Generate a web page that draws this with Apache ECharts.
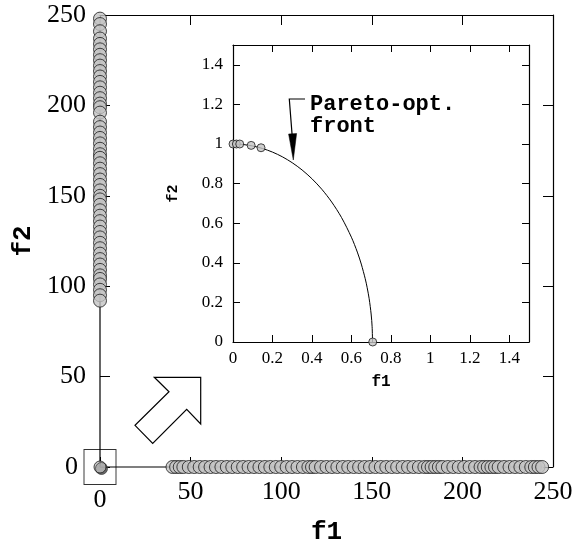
<!DOCTYPE html>
<html>
<head>
<meta charset="utf-8">
<script src="https://cdn.jsdelivr.net/npm/echarts@6/dist/echarts.min.js"></script>
<style>html,body{margin:0;padding:0;background:#fff}#c{width:579px;height:540px}</style>
</head>
<body>
<div id="c"></div>
<script>
// ---- Main plot data ----
const columnF2 = [248,245,241,237,234,231,228,225,222,219,216,213,210,207,204,201,199,196,191,188,185,182,179,176,173,171,168,165,162,159,156,153,150,148,145,142,139,136,133,130,127,124,121,118,115,112,109,106,104,101,98,95,92];
const rowF1 = [40,42,44,46,49,52,55,58,61,64,67,70,73,76,79,82,85,88,91,94,97,100,103,106,109,112,115,117,119,122,125,128,131,134,137,140,143,146,149,152,155,158,161,164,167,170,173,176,179,181,183,185,187,189,192,195,198,201,204,207,210,212,214,216,218,220,223,226,229,232,235,238,240,242,244];
const origin = [0, 0];
const mainTicks = [0, 50, 100, 150, 200, 250];

// ---- Inset data ----
const insetPtsF1 = [0, 0.017, 0.034, 0.092, 0.142, 0.708];
const insetPtsF2 = [1, 1, 1, 0.993, 0.981, 0];
const frontF1 = [0, 0.05, 0.1, 0.15, 0.2, 0.25, 0.3, 0.35, 0.4, 0.45, 0.5, 0.55, 0.6, 0.63, 0.65, 0.67, 0.68, 0.69, 0.70, 0.705, 0.7071];
const frontF2 = [1, 0.9975, 0.9899, 0.9772, 0.9592, 0.9354, 0.9055, 0.8689, 0.8246, 0.7714, 0.7071, 0.6285, 0.5292, 0.4541, 0.3937, 0.3197, 0.2742, 0.2186, 0.1414, 0.0771, 0];
const insetTicks = [0, 0.2, 0.4, 0.6, 0.8, 1, 1.2, 1.4];
const annotationText = 'Pareto-opt.\nfront';

const serif = 'Liberation Serif, Times New Roman, serif';
const mono = 'Liberation Mono, Courier New, monospace';

const colPts = columnF2.map(v => [0, v]);
const rowPts = rowF1.map(v => [v, 0]);
const pathPts = colPts.concat([origin]).concat(rowPts);

const ptStyle = { color: '#c3c3c3', borderColor: '#1a1a1a', borderWidth: 1 };
const lineCol = '#000';

function mainAxisBase(extra) {
  return Object.assign({
    type: 'value', min: 0, max: 250, interval: 50,
    splitLine: { show: false },
    axisTick: { show: true, inside: true, length: 10, lineStyle: { color: lineCol, width: 1 } },
  }, extra);
}
function insetAxisBase(extra) {
  return Object.assign({
    type: 'value', min: 0, max: 1.5, interval: 0.2,
    splitLine: { show: false },
    axisTick: { show: true, inside: true, length: 7, lineStyle: { color: lineCol, width: 1 } },
    axisLine: { show: true, onZero: false, lineStyle: { color: lineCol, width: 1.2 } },
  }, extra);
}

const chart = echarts.init(document.getElementById('c'), null, { renderer: 'canvas' });
chart.setOption({
  animation: false,
  backgroundColor: '#fff',
  grid: [
    { left: 100, top: 15, width: 453, height: 452, show: false, containLabel: false, outerBoundsMode: 'none' },
    { left: 233, top: 45, width: 296, height: 297, show: true, backgroundColor: '#fff', borderWidth: 0, z: 5, containLabel: false, outerBoundsMode: 'none' }
  ],
  xAxis: [
    mainAxisBase({
      gridIndex: 0, position: 'bottom',
      axisLine: { show: false },
      name: 'f1', nameLocation: 'middle', nameGap: 52,
      nameTextStyle: { fontFamily: mono, fontWeight: 'bold', fontSize: 26, color: '#000' },
      axisLabel: {
        fontFamily: serif, fontSize: 26, color: '#000', margin: 12,
        formatter: v => v === 0 ? '{z|0}' : String(v),
        rich: { z: { fontFamily: serif, fontSize: 26, color: '#000', padding: [8, 0, 0, 0] } }
      }
    }),
    mainAxisBase({
      gridIndex: 0, position: 'top',
      axisLine: { show: true, onZero: false, lineStyle: { color: lineCol, width: 1.2 } },
      axisLabel: { show: false }
    }),
    insetAxisBase({
      gridIndex: 1, position: 'bottom', z: 6,
      name: 'f1', nameLocation: 'middle', nameGap: 32,
      nameTextStyle: { fontFamily: mono, fontWeight: 'bold', fontSize: 16, color: '#000' },
      axisLabel: { fontFamily: serif, fontSize: 17, color: '#000', margin: 8, showMaxLabel: false }
    }),
    insetAxisBase({
      gridIndex: 1, position: 'top', z: 6,
      axisLabel: { show: false }
    })
  ],
  yAxis: [
    mainAxisBase({
      gridIndex: 0, position: 'left',
      axisLine: { show: false },
      name: 'f2', nameLocation: 'middle', nameGap: 62, nameRotate: 90,
      nameTextStyle: { fontFamily: mono, fontWeight: 'bold', fontSize: 26, color: '#000' },
      axisLabel: {
        fontFamily: serif, fontSize: 26, color: '#000', margin: 14,
        formatter: v => v === 0 ? '{z|0}' : String(v),
        rich: { z: { fontFamily: serif, fontSize: 26, color: '#000', padding: [0, 8, 0, 0] } }
      }
    }),
    mainAxisBase({
      gridIndex: 0, position: 'right',
      axisLine: { show: true, onZero: false, lineStyle: { color: lineCol, width: 1.2 } },
      axisLabel: { show: false }
    }),
    insetAxisBase({
      gridIndex: 1, position: 'left', z: 6,
      name: 'f2', nameLocation: 'middle', nameGap: 52, nameRotate: 90,
      nameTextStyle: { fontFamily: mono, fontWeight: 'bold', fontSize: 15, color: '#000' },
      axisLabel: { fontFamily: serif, fontSize: 17, color: '#000', margin: 10, showMaxLabel: false }
    }),
    insetAxisBase({
      gridIndex: 1, position: 'right', z: 6,
      axisLabel: { show: false }
    })
  ],
  series: [
    {
      type: 'line', xAxisIndex: 0, yAxisIndex: 0, data: pathPts, showSymbol: false,
      lineStyle: { color: lineCol, width: 1.2 }, clip: false, z: 2
    },
    {
      type: 'scatter', xAxisIndex: 0, yAxisIndex: 0, data: colPts.concat(rowPts),
      symbol: 'circle', symbolSize: 13, itemStyle: ptStyle, clip: false, z: 3
    },
    {
      type: 'scatter', xAxisIndex: 0, yAxisIndex: 0, data: [origin],
      symbol: 'rect', symbolSize: [32, 35],
      itemStyle: { color: 'rgba(0,0,0,0)', borderColor: '#000', borderWidth: 1 }, clip: false, z: 2
    },
    {
      type: 'scatter', xAxisIndex: 0, yAxisIndex: 0, data: [origin],
      symbol: 'circle', symbolSize: 12,
      itemStyle: { color: '#bdbdbd', borderColor: '#1a1a1a', borderWidth: 1, shadowColor: '#444', shadowBlur: 0, shadowOffsetX: 1.5, shadowOffsetY: 1.5 },
      clip: false, z: 4
    },
    {
      type: 'line', xAxisIndex: 2, yAxisIndex: 2, data: frontF1.map((x, i) => [x, frontF2[i]]),
      showSymbol: false, smooth: 0.3, lineStyle: { color: lineCol, width: 1 }, clip: false, z: 7
    },
    {
      type: 'scatter', xAxisIndex: 2, yAxisIndex: 2, data: insetPtsF1.map((x, i) => [x, insetPtsF2[i]]),
      symbol: 'circle', symbolSize: 8, itemStyle: ptStyle, clip: false, z: 8
    }
  ],
  graphic: [
    {
      type: 'polygon', z: 10,
      shape: { points: [[154.3, 377.3], [200.7, 377.3], [200.7, 424], [186.7, 409.3], [152.7, 443.3], [135, 425.3], [169, 391.7]] },
      style: { fill: '#fff', stroke: '#000', lineWidth: 1.2 }
    },
    {
      type: 'polyline', z: 20,
      shape: { points: [[305, 99], [289.3, 99], [292.5, 140]] },
      style: { stroke: '#000', lineWidth: 1.2, fill: null }
    },
    {
      type: 'polygon', z: 20,
      shape: { points: [[288.6, 134], [296.6, 133.5], [293.3, 160]] },
      style: { fill: '#000', stroke: '#000', lineWidth: 0.5 }
    },
    {
      type: 'text', z: 20, x: 310, y: 93,
      style: { text: annotationText, font: 'bold 22px ' + mono, lineHeight: 22, fill: '#000', textVerticalAlign: 'top' }
    }
  ]
});
</script>
</body>
</html>
